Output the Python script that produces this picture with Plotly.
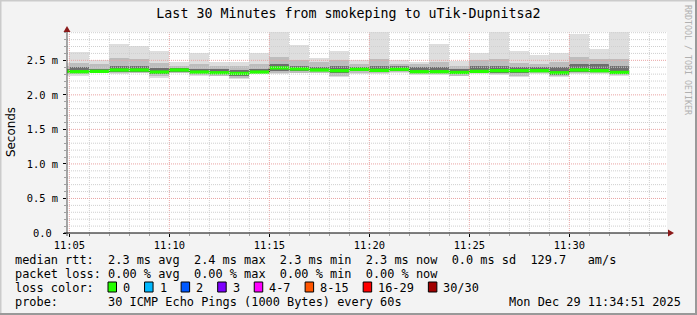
import plotly.graph_objects as go
from datetime import datetime, timedelta

# ---------------- data ----------------
day = "2025-12-29"
minutes = ["11:04", "11:05", "11:06", "11:07", "11:08", "11:09", "11:10", "11:11",
           "11:12", "11:13", "11:14", "11:15", "11:16", "11:17", "11:18", "11:19",
           "11:20", "11:21", "11:22", "11:23", "11:24", "11:25", "11:26", "11:27",
           "11:28", "11:29", "11:30", "11:31", "11:32"]
# values in ms
smoke_max = [2.46, 2.62, 2.51, 2.73, 2.71, 2.63, 2.47, 2.60, 2.48, 2.48, 2.60, 2.95, 2.72, 2.53, 2.63,
             2.50, 2.95, 2.50, 2.48, 2.74, 2.49, 2.61, 2.95, 2.63, 2.58, 2.61, 2.88, 2.66, 2.95]
smoke_p90 = [2.42, 2.46, 2.44, 2.53, 2.52, 2.46, 2.42, 2.45, 2.42, 2.42, 2.45, 2.55, 2.50, 2.47, 2.50,
             2.44, 2.52, 2.45, 2.44, 2.48, 2.42, 2.50, 2.52, 2.46, 2.45, 2.48, 2.55, 2.52, 2.52]
smoke_p75 = [2.38, 2.40, 2.38, 2.42, 2.42, 2.39, 2.39, 2.38, 2.37, 2.36, 2.38, 2.44, 2.42, 2.41, 2.42,
             2.40, 2.42, 2.42, 2.40, 2.40, 2.38, 2.42, 2.42, 2.40, 2.40, 2.40, 2.45, 2.45, 2.42]
median    = [2.34, 2.335, 2.34, 2.36, 2.36, 2.33, 2.36, 2.33, 2.32, 2.31, 2.33, 2.39, 2.375, 2.36, 2.35,
             2.37, 2.355, 2.37, 2.335, 2.335, 2.325, 2.34, 2.35, 2.35, 2.35, 2.32, 2.36, 2.35, 2.325]
smoke_p25 = [2.32, 2.32, 2.33, 2.33, 2.33, 2.30, 2.33, 2.31, 2.30, 2.28, 2.32, 2.35, 2.35, 2.34, 2.31,
             2.34, 2.33, 2.35, 2.31, 2.31, 2.30, 2.32, 2.32, 2.31, 2.33, 2.29, 2.33, 2.33, 2.31]
smoke_p10 = [2.30, 2.30, 2.325, 2.31, 2.32, 2.27, 2.32, 2.29, 2.28, 2.25, 2.31, 2.32, 2.32, 2.32, 2.28,
             2.32, 2.31, 2.33, 2.30, 2.30, 2.28, 2.31, 2.30, 2.28, 2.31, 2.27, 2.31, 2.31, 2.29]
smoke_min = [2.28, 2.28, 2.32, 2.30, 2.31, 2.25, 2.31, 2.27, 2.27, 2.23, 2.30, 2.30, 2.31, 2.31, 2.26,
             2.30, 2.30, 2.32, 2.29, 2.29, 2.27, 2.30, 2.29, 2.26, 2.30, 2.26, 2.30, 2.30, 2.28]

x_tick_labels = ["11:05", "11:10", "11:15", "11:20", "11:25", "11:30"]
y_tick_vals = [0.0, 0.5, 1.0, 1.5, 2.0, 2.5]
y_tick_labels = ["0.0\u00a0", "0.5 m", "1.0 m", "1.5 m", "2.0 m", "2.5 m"]

title_text = "Last 30 Minutes from smokeping to uTik-Dupnitsa2"
legend_line1 = "median rtt:  2.3 ms avg  2.4 ms max  2.3 ms min  2.3 ms now  0.0 ms sd  129.7   am/s"
legend_line2 = "packet loss: 0.00 % avg  0.00 % max  0.00 % min  0.00 % now"
legend_line3 = "loss color:"
legend_line4 = "probe:       30 ICMP Echo Pings (1000 Bytes) every 60s"
date_text = "Mon Dec 29 11:34:51 2025"
loss_labels = ["0", "1", "2", "3", "4-7", "8-15", "16-29", "30/30"]
loss_colors = ["#26ff00", "#00b8ff", "#0059ff", "#7e00ff", "#ff00ff", "#ff5500", "#ff0000", "#a10000"]

# ---------------- geometry ----------------
W, H = 697, 315
L, T, PW, PH = 67, 32, 600, 201
R = W - L - PW
B = H - T - PH

def px(x):
    return (x - L) / PW

def py(y):
    return (T + PH - y) / PH

mono = "DejaVu Sans Mono"
t_start = datetime.fromisoformat(f"{day} 11:04:53")
t_end = t_start + timedelta(minutes=30)
times = [datetime.fromisoformat(f"{day} {m}:00") for m in minutes]
one_min = timedelta(minutes=1)

fig = go.Figure()

def band(lo, hi, color):
    fig.add_trace(go.Bar(
        x=times, y=[h - l for h, l in zip(hi, lo)], base=lo,
        width=60000, offset=0, marker=dict(color=color, line=dict(width=0)),
        hoverinfo="skip", showlegend=False))

band(smoke_min, smoke_max, "#dedede")
band(smoke_p10, smoke_p90, "#bdbdbd")
band(smoke_p25, smoke_p75, "#6e6e6e")

# black median step line
fig.add_trace(go.Scatter(
    x=times + [times[-1] + one_min], y=median + [median[-1]],
    mode="lines", line=dict(color="#000000", width=1, shape="hv"),
    hoverinfo="skip", showlegend=False))

# green median segments (loss 0)
sx, sy = [], []
for t, m in zip(times, median):
    sx += [t, t + one_min, None]
    sy += [m, m, None]
fig.add_trace(go.Scatter(
    x=sx, y=sy, mode="lines", line=dict(color=loss_colors[0], width=3.3),
    connectgaps=False, hoverinfo="skip", showlegend=False))

shapes = []
# grid (drawn above the smoke, like rrdtool)
gmin = "#cfcfcf"
gmaj = "#e9a3a3"
t = datetime.fromisoformat(f"{day} 11:05:00")
while t < t_end:
    major = (t.minute % 5 == 0)
    shapes.append(dict(type="line", xref="x", yref="paper", x0=t, x1=t, y0=0, y1=1,
                       line=dict(color=gmaj if major else gmin, width=1, dash="1px,1px"),
                       layer="above"))
    t += one_min
for i in range(1, 30):
    v = i / 10
    major = (i % 5 == 0)
    shapes.append(dict(type="line", xref="paper", yref="y", x0=0, x1=1, y0=v, y1=v,
                       line=dict(color=gmaj if major else gmin, width=1, dash="1px,1px"),
                       layer="above"))

# axes lines + arrows
shapes.append(dict(type="line", xref="paper", yref="paper", x0=px(67), x1=px(67),
                   y0=py(236), y1=py(30), line=dict(color="#505050", width=1), layer="above"))
shapes.append(dict(type="line", xref="paper", yref="paper", x0=px(64), x1=px(669),
                   y0=py(233), y1=py(233), line=dict(color="#000000", width=1), layer="above"))
shapes.append(dict(type="path", xref="paper", yref="paper",
                   path=f"M {px(67)},{py(26)} L {px(63.5)},{py(32)} L {px(70.5)},{py(32)} Z",
                   fillcolor="#8b1a1a", line=dict(width=0), layer="above"))
shapes.append(dict(type="path", xref="paper", yref="paper",
                   path=f"M {px(674)},{py(233)} L {px(668)},{py(229.5)} L {px(668)},{py(236.5)} Z",
                   fillcolor="#8b1a1a", line=dict(width=0), layer="above"))

# frame
shapes.append(dict(type="rect", xref="paper", yref="paper", x0=px(0), x1=px(W), y0=py(0), y1=py(1.5),
                   fillcolor="#cbcbcb", line=dict(width=0), layer="above"))
shapes.append(dict(type="rect", xref="paper", yref="paper", x0=px(0), x1=px(1.5), y0=py(0), y1=py(H),
                   fillcolor="#cbcbcb", line=dict(width=0), layer="above"))
shapes.append(dict(type="rect", xref="paper", yref="paper", x0=px(W - 2), x1=px(W), y0=py(0), y1=py(H),
                   fillcolor="#999999", line=dict(width=0), layer="above"))
shapes.append(dict(type="rect", xref="paper", yref="paper", x0=px(0), x1=px(W), y0=py(H - 2), y1=py(H),
                   fillcolor="#999999", line=dict(width=0), layer="above"))

annotations = []
FS = 11.9
CW = 7.16
def text(x, y, s, size=FS, anchor="left", color="#000000", family=mono, angle=0):
    annotations.append(dict(xref="paper", yref="paper", x=px(x), y=py(y), text=s,
                            showarrow=False, xanchor=anchor, yanchor="middle",
                            font=dict(family=family, size=size, color=color),
                            textangle=angle, borderpad=0))

lx = 13.5
text(lx, 259.5, legend_line1.replace(" ", "\u00a0"))
text(lx, 273.5, legend_line2.replace(" ", "\u00a0"))
text(lx, 287.5, legend_line3.replace(" ", "\u00a0"))
text(lx, 301.5, legend_line4.replace(" ", "\u00a0"))
text(682, 301.5, date_text.replace(" ", "\u00a0"), anchor="right")

bx = 108.0
for lab, col in zip(loss_labels, loss_colors):
    shapes.append(dict(type="rect", xref="paper", yref="paper", x0=px(bx), x1=px(bx + 8.5),
                       y0=py(292), y1=py(282), fillcolor=col,
                       line=dict(color="#000000", width=1), layer="above"))
    lab_x = bx + 14
    text(lab_x, 287.5, lab)
    bx = lab_x + 1 + len(lab) * CW + 14.4

# y-axis unit label and watermark
text(11, 132, "Seconds", size=11.9, anchor="center", family="DejaVu Sans", angle=-90)
annotations.append(dict(xref="paper", yref="paper", x=px(688), y=py(60), text="RRDTOOL / TOBI OETIKER".replace(" ", "\u00a0"),
                        showarrow=False, xanchor="center", yanchor="middle", textangle=90,
                        font=dict(family=mono, size=8.3, color="#b0b0b0")))

fig.update_layout(
    width=W, height=H, autosize=False,
    margin=dict(l=L, r=R, t=T, b=B, pad=0),
    paper_bgcolor="#f3f3f3", plot_bgcolor="#ffffff",
    barmode="overlay", bargap=0, showlegend=False,
    title=dict(text=title_text, x=0.5, xref="container", xanchor="center",
               y=1 - 13.5 / H, yref="container", yanchor="middle",
               font=dict(family=mono, size=13.3, color="#000000")),
    xaxis=dict(type="date", range=[t_start, t_end], showgrid=False, zeroline=False, showline=False,
               tickvals=[datetime.fromisoformat(f"{day} {s}:00") for s in x_tick_labels],
               ticktext=x_tick_labels, ticks="outside", ticklen=3, tickcolor="#000000", tickwidth=1,
               tickfont=dict(family=mono, size=10.4, color="#000000"),
               minor=dict(dtick=60000, tick0=f"{day} 11:05:00", ticks="outside", ticklen=2,
                          tickcolor="#a0a0a0", showgrid=False),
               fixedrange=True),
    yaxis=dict(range=[0, 2.91], showgrid=False, zeroline=False, showline=False,
               tickvals=y_tick_vals, ticktext=y_tick_labels, ticks="outside", ticklen=3,
               tickcolor="#000000", tickwidth=1, ticklabelstandoff=3,
               tickfont=dict(family=mono, size=10.4, color="#000000"),
               minor=dict(dtick=0.1, tick0=0, ticks="outside", ticklen=2, tickcolor="#a0a0a0",
                          showgrid=False),
               fixedrange=True),
    shapes=shapes, annotations=annotations,
)

fig.write_html("out.html")
